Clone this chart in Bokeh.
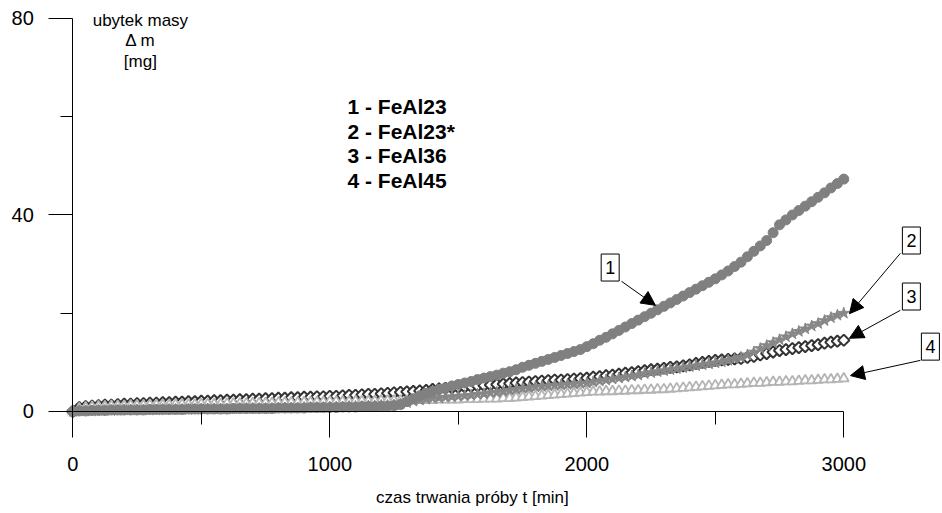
from bokeh.plotting import figure
from bokeh.models import Range1d, FixedTicker, Label, Arrow, NormalHead, LinearAxis
from bokeh.embed import file_html
from bokeh.resources import INLINE
import math

# ---- data ----
time_min = list(range(0, 3025, 25))

feal23 = [0.0, 0.1, 0.1, 0.2, 0.2, 0.2, 0.3, 0.3, 0.3, 0.3,
          0.3, 0.3, 0.4, 0.4, 0.4, 0.4, 0.4, 0.4, 0.5, 0.5,
          0.5, 0.5, 0.5, 0.5, 0.5, 0.6, 0.6, 0.6, 0.6, 0.6,
          0.6, 0.6, 0.7, 0.7, 0.7, 0.7, 0.7, 0.8, 0.8, 0.8,
          0.8, 0.8, 0.9, 0.9, 0.9, 1.0, 1.0, 1.0, 1.1, 1.1,
          1.2, 1.4, 2.0, 2.6, 3.2, 3.7, 4.1, 4.5, 4.8, 5.2,
          5.5, 5.8, 6.1, 6.5, 6.8, 7.1, 7.4, 7.8, 8.1, 8.5,
          9.0, 9.4, 9.8, 10.2, 10.6, 11.0, 11.4, 11.8, 12.2, 12.6,
          13.2, 13.8, 14.5, 15.1, 15.8, 16.5, 17.2, 17.9, 18.6, 19.3,
          20.0, 20.7, 21.4, 22.1, 22.8, 23.5, 24.2, 24.9, 25.6, 26.3,
          27.0, 27.8, 28.6, 29.5, 30.4, 31.5, 32.6, 33.7, 34.8, 36.4,
          38.0, 39.0, 40.0, 40.9, 41.8, 42.7, 43.6, 44.5, 45.5, 46.4,
          47.3]

feal23s = [0.0, 0.1, 0.1, 0.1, 0.2, 0.2, 0.2, 0.2, 0.3, 0.3,
           0.3, 0.3, 0.3, 0.3, 0.4, 0.4, 0.4, 0.4, 0.4, 0.4,
           0.5, 0.5, 0.5, 0.5, 0.5, 0.5, 0.6, 0.6, 0.6, 0.6,
           0.6, 0.6, 0.7, 0.7, 0.7, 0.7, 0.8, 0.8, 0.8, 0.8,
           0.9, 0.9, 0.9, 1.0, 1.0, 1.0, 1.1, 1.1, 1.2, 1.2,
           1.3, 1.5, 1.8, 2.1, 2.3, 2.5, 2.7, 2.8, 2.9, 3.0,
           3.1, 3.2, 3.3, 3.5, 3.6, 3.8, 3.9, 4.1, 4.3, 4.5,
           4.7, 4.8, 5.0, 5.1, 5.2, 5.3, 5.4, 5.5, 5.6, 5.7,
           5.8, 6.0, 6.2, 6.4, 6.6, 6.8, 7.0, 7.2, 7.4, 7.7,
           7.9, 8.1, 8.3, 8.5, 8.7, 8.9, 9.1, 9.3, 9.5, 9.7,
           9.9, 10.1, 10.4, 10.7, 11.0, 11.5, 12.1, 12.8, 13.4, 14.0,
           14.6, 15.2, 15.8, 16.3, 16.8, 17.4, 17.9, 18.5, 19.1, 19.6,
           20.0]

feal36 = [0.0, 0.8, 1.0, 1.1, 1.2, 1.3, 1.3, 1.4, 1.5, 1.5,
          1.6, 1.6, 1.7, 1.7, 1.8, 1.8, 1.9, 1.9, 2.0, 2.0,
          2.1, 2.1, 2.2, 2.2, 2.3, 2.3, 2.4, 2.4, 2.5, 2.5,
          2.6, 2.6, 2.7, 2.7, 2.8, 2.8, 2.9, 2.9, 3.0, 3.0,
          3.1, 3.1, 3.2, 3.3, 3.3, 3.4, 3.5, 3.5, 3.6, 3.7,
          3.8, 3.9, 4.0, 4.1, 4.2, 4.3, 4.5, 4.6, 4.7, 4.8,
          4.9, 5.0, 5.1, 5.2, 5.3, 5.4, 5.5, 5.6, 5.7, 5.8,
          5.9, 6.0, 6.1, 6.2, 6.3, 6.4, 6.4, 6.5, 6.6, 6.7,
          6.8, 7.0, 7.1, 7.3, 7.4, 7.6, 7.8, 7.9, 8.1, 8.3,
          8.5, 8.6, 8.8, 9.0, 9.1, 9.3, 9.5, 9.8, 10.0, 10.2,
          10.4, 10.5, 10.6, 10.7, 10.8, 11.0, 11.2, 11.5, 11.8, 12.1,
          12.4, 12.6, 12.8, 13.0, 13.2, 13.4, 13.6, 13.9, 14.1, 14.3,
          14.5]

feal45 = [0.0, 0.6, 0.8, 0.9, 1.0, 1.0, 1.1, 1.1, 1.1, 1.2,
          1.2, 1.2, 1.3, 1.3, 1.3, 1.3, 1.4, 1.4, 1.4, 1.4,
          1.5, 1.5, 1.5, 1.5, 1.6, 1.6, 1.6, 1.6, 1.7, 1.7,
          1.7, 1.7, 1.8, 1.8, 1.8, 1.8, 1.9, 1.9, 1.9, 1.9,
          2.0, 2.0, 2.0, 2.0, 2.1, 2.1, 2.1, 2.1, 2.2, 2.2,
          2.2, 2.2, 2.2, 2.3, 2.3, 2.3, 2.3, 2.4, 2.4, 2.4,
          2.4, 2.5, 2.5, 2.5, 2.6, 2.6, 2.6, 2.7, 2.7, 2.8,
          2.9, 3.0, 3.1, 3.2, 3.3, 3.4, 3.5, 3.6, 3.7, 3.8,
          3.9, 4.0, 4.0, 4.1, 4.1, 4.2, 4.2, 4.3, 4.3, 4.4,
          4.4, 4.5, 4.5, 4.6, 4.7, 4.8, 4.9, 5.0, 5.1, 5.2,
          5.3, 5.4, 5.5, 5.5, 5.6, 5.7, 5.8, 5.8, 5.9, 6.0,
          6.0, 6.1, 6.1, 6.2, 6.3, 6.3, 6.4, 6.5, 6.5, 6.6,
          6.7]

series_names = ["FeAl23", "FeAl23*", "FeAl36", "FeAl45"]
series_numbers = ["1", "2", "3", "4"]
x_ticks = [0, 1000, 2000, 3000]
x_minor = [500, 1500, 2500]
y_ticks = [0, 40, 80]
y_minor = [20, 60]
x_title = "czas trwania próby t [min]"
y_title = ["ubytek masy", "Δ m", "[mg]"]

FONT = "Liberation Sans"

p = figure(width=940, height=511, output_backend="svg", toolbar_location=None,
           x_range=Range1d(-281.3, 3376.3), y_range=Range1d(-20.36, 83.66),
           x_axis_type=None, y_axis_type=None, min_border=0)
p.outline_line_color = None
p.background_fill_color = "white"
p.border_fill_color = "white"

xaxis = LinearAxis(fixed_location=0, bounds=(0, 3000),
                   ticker=FixedTicker(ticks=x_ticks, minor_ticks=x_minor))
xaxis.major_tick_in = 0
xaxis.major_tick_out = 26
xaxis.minor_tick_in = 0
xaxis.minor_tick_out = 13
xaxis.major_label_standoff = 20
xaxis.major_label_text_font = FONT
xaxis.major_label_text_font_size = "20px"
xaxis.major_label_text_color = "black"
xaxis.axis_line_color = "black"
xaxis.major_tick_line_color = "black"
xaxis.minor_tick_line_color = "black"
p.add_layout(xaxis, "below")

yaxis = LinearAxis(fixed_location=0, bounds=(0, 80),
                   ticker=FixedTicker(ticks=y_ticks, minor_ticks=y_minor))
yaxis.major_tick_in = 0
yaxis.major_tick_out = 24
yaxis.minor_tick_in = 0
yaxis.minor_tick_out = 12
yaxis.major_label_standoff = 15
yaxis.major_label_text_font = FONT
yaxis.major_label_text_font_size = "20px"
yaxis.major_label_text_color = "black"
yaxis.axis_line_color = "black"
yaxis.major_tick_line_color = "black"
yaxis.minor_tick_line_color = "black"
p.add_layout(yaxis, "left")

# series (drawing order: diamonds, triangles, stars, circles)
p.scatter(time_min, feal36, marker="square", angle=math.pi / 4, size=8,
          line_color="#333333", line_width=2, fill_color="white")
p.scatter(time_min, feal45, marker="triangle", size=10,
          line_color="#b4b4b4", line_width=1.8, fill_color="white")
p.scatter(time_min, feal23s, marker="star", size=12,
          line_color="#878787", line_width=1, fill_color="#878787")
p.scatter(time_min, feal23, marker="circle", size=10,
          line_color="#808080", line_width=1, fill_color="#808080")

# y axis title (three centered lines)
for txt, yy in zip(y_title, [79.6, 75.5, 71.2]):
    p.add_layout(Label(x=263, y=yy, text=txt, text_align="center", text_baseline="middle",
                       text_font=FONT, text_font_size="17px", text_color="black"))

# x axis title
p.add_layout(Label(x=1555, y=-17.5, text=x_title, text_align="center", text_baseline="middle",
                   text_font=FONT, text_font_size="17px", text_color="black"))

# legend text
for i, (num, name) in enumerate(zip(series_numbers, series_names)):
    p.add_layout(Label(x=1069, y=62.1 - 5.03 * i, text=f"{num} - {name}", text_align="left",
                       text_baseline="middle", text_font=FONT, text_font_size="21px",
                       text_font_style="bold", text_color="black"))

# numbered boxes with arrows
boxes = [(2091, 29.3), (3263, 34.8), (3263, 23.4), (3337, 13.2)]
arrows = [((2135, 26.5), (2267, 21.6)),
          ((3220, 32.2), (3022, 19.9)),
          ((3220, 20.6), (3022, 14.9)),
          ((3298, 10.4), (3026, 7.3))]
for num, (bx, by), ((xs, ys), (xe, ye)) in zip(series_numbers, boxes, arrows):
    p.add_layout(Arrow(end=NormalHead(size=14, fill_color="black", line_color="black"),
                       x_start=xs, y_start=ys, x_end=xe, y_end=ye,
                       line_color="black", line_width=1))
    p.add_layout(Label(x=bx, y=by, text=num, text_align="center", text_baseline="middle",
                       text_font=FONT, text_font_size="18px", text_color="black",
                       border_line_color="black", border_line_width=1,
                       background_fill_color="white", padding=(4, 7)))

open("out.html", "w").write(file_html(p, INLINE))
